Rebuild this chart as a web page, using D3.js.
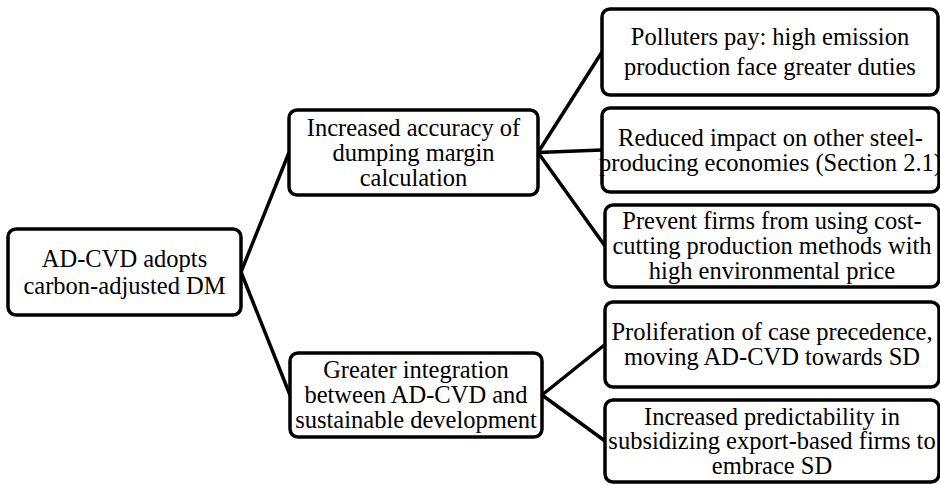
<!DOCTYPE html>
<html>
<head>
    <meta charset="utf-8">
    <title>AD-CVD carbon-adjusted DM</title>
    <script src="https://d3js.org/d3.v7.min.js"></script>
    <style>
        body {
            margin: 0;
            background: #fff;
            overflow: hidden;
        }
        .box {
            fill: #fff;
            stroke: #000;
            stroke-width: 3.5px;
        }
        .link {
            stroke: #000;
            stroke-width: 3.5px;
            fill: none;
        }
        .label {
            font-family: "Liberation Serif", "Times New Roman", serif;
            font-size: 24.5px;
            fill: #000;
        }
    </style>
</head>
<body>
    <svg width="940" height="485"></svg>

    <script>
    // tree structure
    const nodeIds = ["root", "m1", "m2", "l1", "l2", "l3", "l4", "l5"];
    const parentIds = [null, "root", "root", "m1", "m1", "m1", "m2", "m2"];
    const nodeLabels = [
        ["AD-CVD adopts", "carbon-adjusted DM"],
        ["Increased accuracy of", "dumping margin", "calculation"],
        ["Greater integration", "between AD-CVD and", "sustainable development"],
        ["Polluters pay: high emission", "production face greater duties"],
        ["Reduced impact on other steel-", "producing economies (Section 2.1)"],
        ["Prevent firms from using cost-", "cutting production methods with", "high environmental price"],
        ["Proliferation of case precedence,", "moving AD-CVD towards SD"],
        ["Increased predictability in", "subsidizing export-based firms to", "embrace SD"]
    ];

    // box placement (x, y, w, h, line height)
    const layout = {
        root: [8, 229, 233, 86, 27],
        m1: [289, 110, 249, 85, 25],
        m2: [290, 353, 252, 84, 25],
        l1: [602, 9, 336, 86, 30],
        l2: [602, 108, 337, 84, 25],
        l3: [605, 205, 334, 82, 25],
        l4: [605, 302, 334, 85, 25],
        l5: [605, 400, 334, 82, 24.5]
    };

    const svg = d3.select("svg");

    const table = nodeIds.map((id, i) => ({ id: id, parent: parentIds[i], lines: nodeLabels[i] }));
    const root = d3.stratify().id(d => d.id).parentId(d => d.parent)(table);

    root.each(n => {
        const b = layout[n.id];
        n.bx = b[0]; n.by = b[1]; n.bw = b[2]; n.bh = b[3]; n.lh = b[4];
    });

    // straight connectors: parent right-middle to child left-middle
    svg.append("g").selectAll("line")
        .data(root.links())
        .enter().append("line")
        .attr("class", "link")
        .attr("x1", d => d.source.bx + d.source.bw)
        .attr("y1", d => d.source.by + d.source.bh / 2)
        .attr("x2", d => d.target.bx)
        .attr("y2", d => d.target.by + d.target.bh / 2);

    const node = svg.append("g").selectAll("g")
        .data(root.descendants())
        .enter().append("g")
        .attr("transform", d => `translate(${d.bx},${d.by})`);

    node.append("rect")
        .attr("class", "box")
        .attr("width", d => d.bw)
        .attr("height", d => d.bh)
        .attr("rx", 8)
        .attr("ry", 8);

    node.append("text")
        .attr("class", "label")
        .attr("text-anchor", "middle")
        .each(function(d) {
            const lines = d.data.lines;
            const start = d.bh / 2 - (lines.length - 1) * d.lh / 2 + 8;
            d3.select(this).selectAll("tspan")
                .data(lines)
                .enter().append("tspan")
                .attr("x", d.bw / 2)
                .attr("y", (t, i) => start + i * d.lh)
                .text(t => t);
        });
    </script>
</body>
</html>
